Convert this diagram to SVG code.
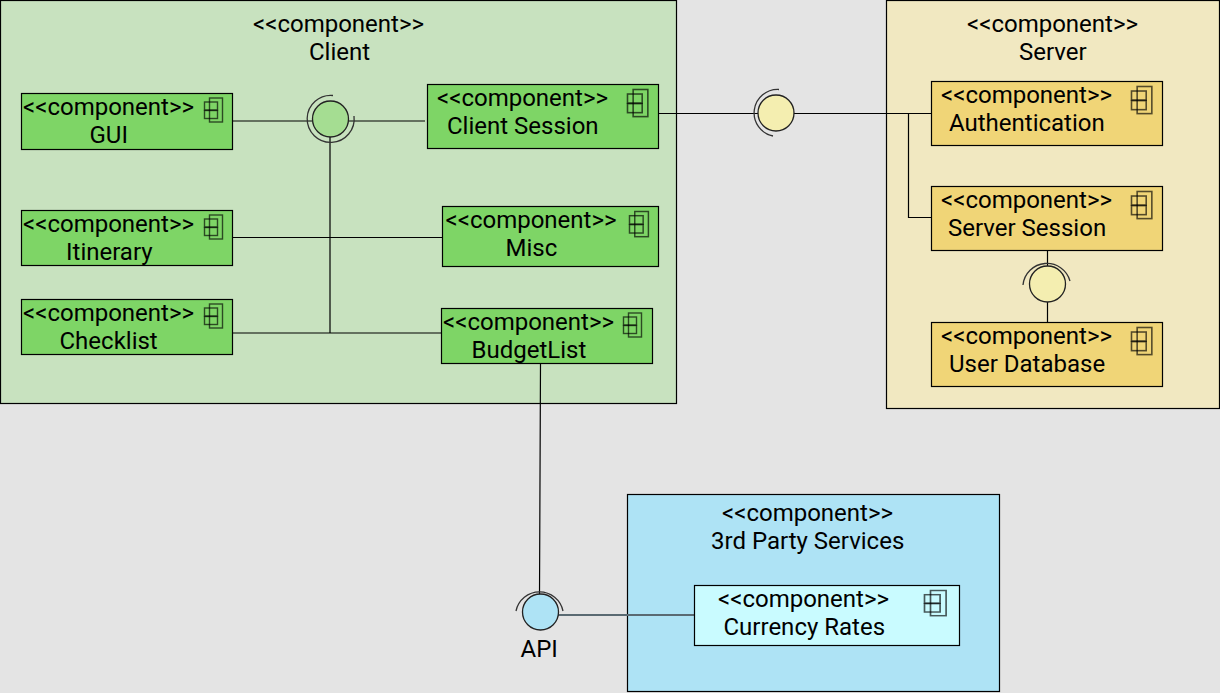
<svg xmlns="http://www.w3.org/2000/svg" width="1220" height="693" viewBox="0 0 1220 693">
<style>
text{font-family:Roboto,"Liberation Sans",sans-serif;font-size:24px;fill:#000}
.box{stroke:#000;stroke-width:1.2}
.g{fill:#c8e2bf}.gc{fill:#7ed566}
.y{fill:#f1e8c1}.yc{fill:#f0d577}
.b{fill:#aee3f5}.bc{fill:#c9fbff}
.line{fill:none;stroke:#000;stroke-width:1.2}
.arc{fill:none;stroke:#333;stroke-width:1.3}
.ball{stroke:#222;stroke-width:1.3}
.ic{fill:none;stroke:#000;stroke-opacity:.65;stroke-width:1.4}
</style>
<defs>
<g id="icon"><rect class="ic" x="5" y="0" width="13" height="24"/><rect class="ic" x="0" y="4" width="13" height="8"/><rect class="ic" x="0" y="12.500" width="13" height="8"/></g>
</defs>
<rect width="1220" height="693" fill="#e4e4e4"/>
<g id="client"><rect class="box g" x="0.5" y="0.5" width="676" height="403"/><text x="253" y="32">&lt;&lt;component&gt;&gt;</text><text x="309" y="60">Client</text></g>
<g id="server"><rect class="box y" x="886.5" y="0.5" width="333" height="408"/><text x="967" y="32">&lt;&lt;component&gt;&gt;</text><text x="1019" y="60">Server</text></g>
<g id="third-party"><rect class="box b" x="627.5" y="494.5" width="372" height="197"/><text x="722" y="521">&lt;&lt;component&gt;&gt;</text><text x="711" y="549">3rd Party Services</text></g>
<g id="connectors">
<path class="line" d="M232 121H425M330 121V333M232 333H441M232 237.500H442M658 113.500H931M908.500 113.500V217.500H931M1047.500 250V322M540.500 363L539.500 595"/>
<path d="M558 615H694" fill="none" stroke="#5a6a72" stroke-width="2"/>
</g>
<g id="gui"><rect class="box gc" x="21.500" y="93.500" width="211" height="56"/><text x="23" y="115">&lt;&lt;component&gt;&gt;</text><text x="89.500" y="143">GUI</text><use href="#icon" x="204.500" y="98"/></g>
<g id="client-session"><rect class="box gc" x="427.500" y="84.500" width="231" height="64"/><text x="437" y="106">&lt;&lt;component&gt;&gt;</text><text x="447" y="134">Client Session</text><use href="#icon" transform="translate(627.500 89.500) scale(1.13)"/></g>
<g id="itinerary"><rect class="box gc" x="21.500" y="210.500" width="211" height="55"/><text x="23" y="232">&lt;&lt;component&gt;&gt;</text><text x="66" y="260">Itinerary</text><use href="#icon" x="204.500" y="215"/></g>
<g id="misc"><rect class="box gc" x="442.500" y="206.500" width="216" height="60"/><text x="445.500" y="228">&lt;&lt;component&gt;&gt;</text><text x="505.500" y="256">Misc</text><use href="#icon" transform="translate(629.500 211.500) scale(1.05)"/></g>
<g id="checklist"><rect class="box gc" x="21.500" y="299.500" width="211" height="55"/><text x="23" y="321">&lt;&lt;component&gt;&gt;</text><text x="59.500" y="349">Checklist</text><use href="#icon" x="204.500" y="304"/></g>
<g id="budgetlist"><rect class="box gc" x="441.500" y="308.500" width="211" height="55"/><text x="443" y="330">&lt;&lt;component&gt;&gt;</text><text x="471.500" y="358">BudgetList</text><use href="#icon" x="623.500" y="313"/></g>
<g id="authentication"><rect class="box yc" x="931.500" y="81.500" width="231" height="64"/><text x="941" y="103">&lt;&lt;component&gt;&gt;</text><text x="949" y="131">Authentication</text><use href="#icon" transform="translate(1131.500 86.500) scale(1.13)"/></g>
<g id="server-session"><rect class="box yc" x="931.500" y="186.500" width="231" height="64"/><text x="941" y="208">&lt;&lt;component&gt;&gt;</text><text x="948" y="236">Server Session</text><use href="#icon" transform="translate(1131.500 191.500) scale(1.13)"/></g>
<g id="user-database"><rect class="box yc" x="931.500" y="322.500" width="231" height="64"/><text x="941" y="344">&lt;&lt;component&gt;&gt;</text><text x="949" y="372">User Database</text><use href="#icon" transform="translate(1131.500 327.500) scale(1.13)"/></g>
<g id="currency-rates"><rect class="box bc" x="694.500" y="585.500" width="265" height="60"/><text x="718" y="607">&lt;&lt;component&gt;&gt;</text><text x="723.500" y="635">Currency Rates</text><use href="#icon" transform="translate(924.500 590.500) scale(1.2 1.05)"/></g>
<g id="interface-client"><circle class="ball" cx="330.500" cy="119" r="18" fill="#a5dd92"/><path class="arc" d="M333 95.500A23.500 23.500 0 1 0 354 116"/></g>
<g id="interface-server"><circle class="ball" cx="776" cy="113" r="18" fill="#f4eeb0"/><path class="arc" d="M779 89.500A23.500 23.500 0 0 0 773 136"/></g>
<g id="interface-database"><circle class="ball" cx="1047.500" cy="284" r="18" fill="#f4eeb0"/><path class="arc" d="M1023 285A24 24 0 0 1 1070 281"/></g>
<g id="interface-api"><circle class="ball" cx="540.500" cy="612" r="18" fill="#aee3f5"/><path class="arc" d="M516 611A24 24 0 0 1 563 611"/><text x="520.500" y="657">API</text></g>
</svg>
